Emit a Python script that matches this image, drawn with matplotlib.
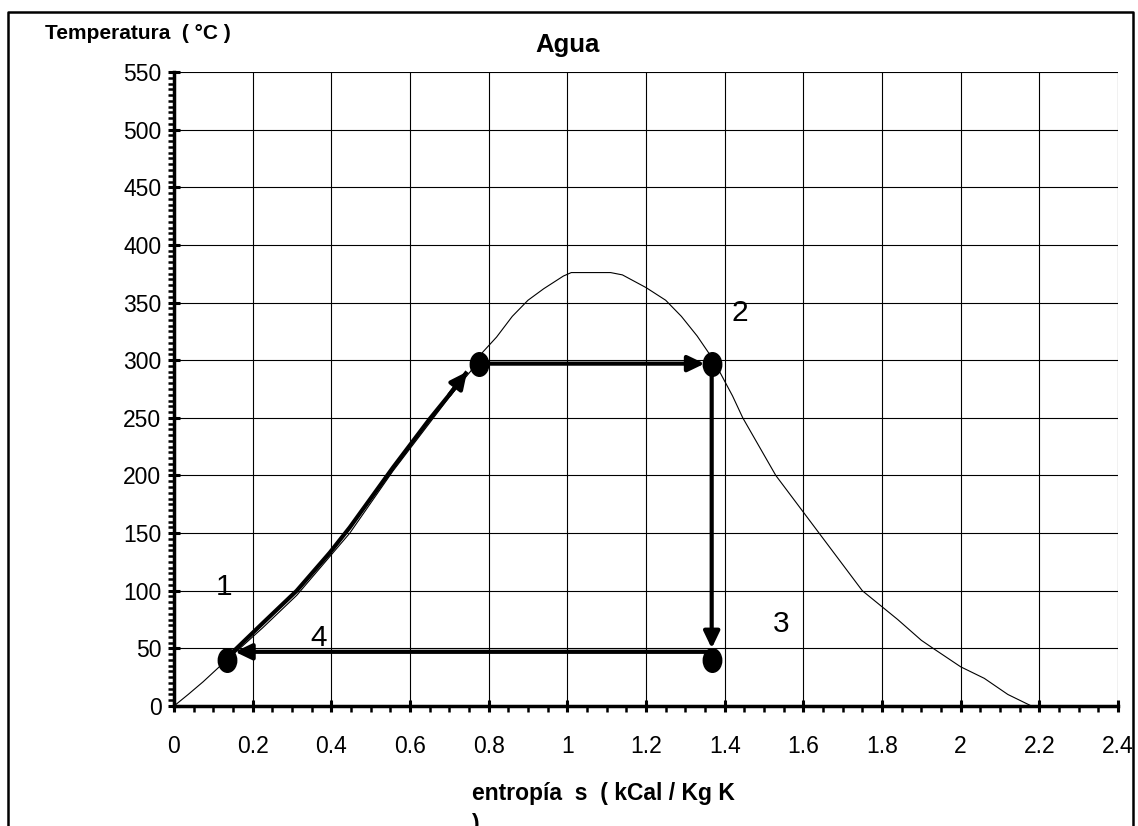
import matplotlib
matplotlib.use('Agg')
import matplotlib.pyplot as plt
from matplotlib.lines import Line2D
from matplotlib.path import Path
from matplotlib.transforms import Affine2D
from matplotlib.ticker import MultipleLocator

plt.rcParams['font.family'] = ['Liberation Sans', 'DejaVu Sans']

# campana de saturacion del agua (s en kCal/Kg K, T en °C)
campana_s = [0, 0.036, 0.074, 0.112, 0.135, 0.226, 0.312, 0.447, 0.557, 0.70, 0.77,
             0.785, 0.82, 0.86, 0.90, 0.94, 0.99, 1.01, 1.11, 1.14, 1.20, 1.25,
             1.29, 1.33, 1.37, 1.42, 1.446, 1.53, 1.64, 1.75, 1.84, 1.90,
             1.93, 2.0, 2.06, 2.12, 2.18]
campana_T = [0, 10, 21, 33, 40, 68, 96, 150, 204, 268, 297,
             307, 320, 338, 352, 362, 373, 376, 376, 374, 363, 352,
             338, 321, 301, 269, 250, 200, 150, 100, 75, 57,
             50, 34, 24, 10, 0]

# calentamiento 1 -> 2'
calent_s = [0.15, 0.226, 0.312, 0.396, 0.447, 0.557, 0.65, 0.70, 0.745]
calent_T = [47, 72, 100, 133, 155, 207, 249, 270, 290]

# estados del ciclo
estados_s = [0.135, 0.775, 1.367, 1.367]
estados_T = [40, 297, 297, 40]
T_alta = 297
T_baja = 47
s_turb = 1.367
s_liq = 0.775
s_1 = 0.15

etiquetas = ['1', '2', '3', '4']
etiq_s = [0.127, 1.438, 1.543, 0.368]
etiq_T = [103, 341, 71, 59]

x_ticks = [0, 0.2, 0.4, 0.6, 0.8, 1.0, 1.2, 1.4, 1.6, 1.8, 2.0, 2.2, 2.4]
x_labels = ['0', '0.2', '0.4', '0.6', '0.8', '1', '1.2', '1.4', '1.6', '1.8', '2', '2.2', '2.4']
y_ticks = [0, 50, 100, 150, 200, 250, 300, 350, 400, 450, 500, 550]

W, H = 1138, 826
fig = plt.figure(figsize=(W / 100, H / 100), dpi=100)
ax = fig.add_axes([174 / W, 120 / H, (1118 - 174) / W, (706 - 72) / H])

# marco exterior
fig.add_artist(Line2D([8 / W, 8 / W, 1133 / W, 1133 / W],
                      [-0.02, 1 - 12 / H, 1 - 12 / H, -0.02],
                      color='k', lw=1.8, transform=fig.transFigure))

ax.plot(campana_s, campana_T, color='k', lw=0.8, zorder=3)
ax.plot(calent_s, calent_T, color='k', lw=3, solid_capstyle='butt',
        solid_joinstyle='round', zorder=4)

flecha = dict(arrowstyle='-|>,head_length=1.0,head_width=0.48', color='k', lw=3,
              mutation_scale=10, shrinkA=0, shrinkB=0)
ax.annotate('', xy=(calent_s[-1], calent_T[-1]), xytext=(calent_s[-2], calent_T[-2]),
            arrowprops=flecha, zorder=4)
ax.annotate('', xy=(s_turb - 0.018, T_alta), xytext=(s_liq, T_alta),
            arrowprops=flecha, zorder=4)
ax.annotate('', xy=(s_turb, T_baja + 3), xytext=(s_turb, T_alta),
            arrowprops=flecha, zorder=4)
ax.annotate('', xy=(s_1 + 0.005, T_baja), xytext=(s_turb, T_baja),
            arrowprops=flecha, zorder=4)

elipse = Path.unit_circle().transformed(Affine2D().scale(0.78, 1.0))
ax.plot(estados_s, estados_T, linestyle='none', marker=elipse, markersize=17,
        color='k', zorder=5, clip_on=False)

for txt, s, t in zip(etiquetas, etiq_s, etiq_T):
    ax.text(s, t, txt, ha='center', va='center', fontsize=21.5)

ax.set_xlim(0, 2.4)
ax.set_ylim(0, 550)
ax.set_xticks(x_ticks)
ax.set_xticklabels(x_labels)
ax.set_yticks(y_ticks)
ax.xaxis.set_minor_locator(MultipleLocator(0.05))
ax.yaxis.set_minor_locator(MultipleLocator(5))
ax.grid(True, which='major', color='k', lw=0.8)
ax.set_axisbelow(True)

for lado in ['top', 'right']:
    ax.spines[lado].set_visible(False)
for lado in ['left', 'bottom']:
    ax.spines[lado].set_linewidth(2.5)

ax.tick_params(which='major', direction='inout', length=8, width=2.2, labelsize=16.5)
ax.tick_params(which='minor', direction='out', length=4, width=1.8)
ax.tick_params(axis='x', which='major', pad=17)
ax.tick_params(axis='y', which='major', pad=5)

fig.text(568 / W, 1 - 45 / H, 'Agua', ha='center', va='center', fontsize=18.5, fontweight='bold')
fig.text(45 / W, 1 - 39 / H, 'Temperatura  ( °C )', ha='left', va='baseline',
         fontsize=15, fontweight='bold')
fig.text(472 / W, 1 - 782 / H, 'entropía  s  ( kCal / Kg K\n)', ha='left', va='top',
         fontsize=16.5, fontweight='bold', linespacing=1.45)

fig.savefig('out.png', dpi=100)
